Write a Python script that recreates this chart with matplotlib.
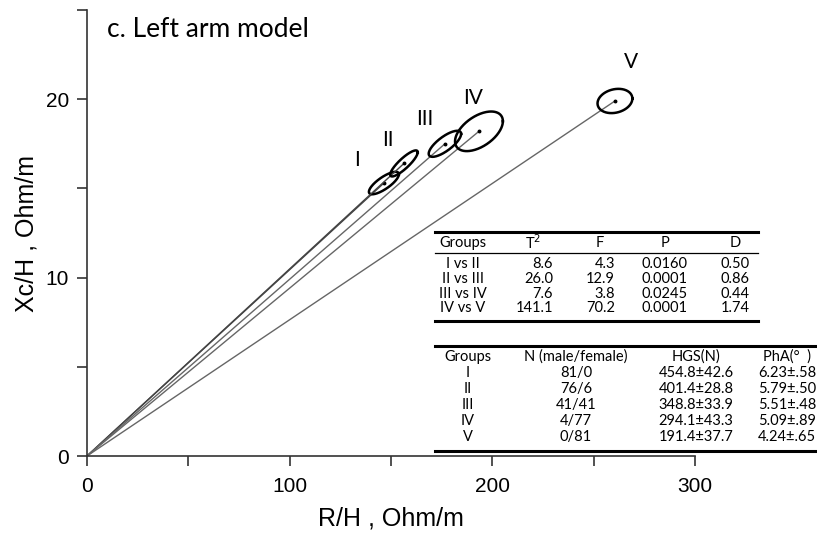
import numpy as np
import matplotlib.pyplot as plt
from matplotlib.lines import Line2D

# group centres (R/H, Xc/H) and ellipse spreads
groups = ['I', 'II', 'III', 'IV', 'V']
r_h = [146.5, 156.4, 176.6, 193.4, 260.5]
xc_h = [15.3, 16.4, 17.5, 18.2, 19.9]
sd_r = [7.4, 6.8, 8.0, 11.8, 8.6]
sd_xc = [0.63, 0.73, 0.73, 1.11, 0.68]
rho = [0.78, 0.86, 0.76, 0.51, 0.2]
label_x = [133, 148.5, 166.7, 190.4, 268.4]
label_y = [16.6, 17.7, 18.9, 20.05, 22.1]

t2_head = ['Groups', 'T$^2$', 'F', 'P', 'D']
t2_rows = [['I vs II', '8.6', '4.3', '0.0160', '0.50'],
           ['II vs III', '26.0', '12.9', '0.0001', '0.86'],
           ['III vs IV', '7.6', '3.8', '0.0245', '0.44'],
           ['IV vs V', '141.1', '70.2', '0.0001', '1.74']]

grp_head = ['Groups', 'N (male/female)', 'HGS(N)', 'PhA(°  )']
grp_rows = [['I', '81/0', '454.8±42.6', '6.23±.58'],
            ['II', '76/6', '401.4±28.8', '5.79±.50'],
            ['III', '41/41', '348.8±33.9', '5.51±.48'],
            ['IV', '4/77', '294.1±43.3', '5.09±.89'],
            ['V', '0/81', '191.4±37.7', '4.24±.65']]

W, H = 817, 533
fig = plt.figure(figsize=(W / 100, H / 100), dpi=100)
ax = fig.add_axes([87 / W, 1 - 456 / H, (695 - 87) / W, (456 - 10) / H])

num_font = 'Liberation Sans'
txt_font = 'Lato'

t = np.linspace(0, 2 * np.pi, 200)
for i in range(len(groups)):
    ax.plot([0, r_h[i]], [0, xc_h[i]], color='#444444' if i < 2 else '#666666', lw=1.0)
    ex = r_h[i] + sd_r[i] * np.cos(t)
    ey = xc_h[i] + sd_xc[i] * (rho[i] * np.cos(t) + np.sqrt(1 - rho[i] ** 2) * np.sin(t))
    ax.plot(ex, ey, color='black', lw=1.8)
    ax.plot(r_h[i], xc_h[i], 'o', color='black', ms=1.8)
    ax.text(label_x[i], label_y[i], groups[i], fontsize=15, family=txt_font,
            ha='center', va='center')

ax.text(10, 23.9, 'c. Left arm model', fontsize=19, family=txt_font, va='center')

ax.set_xlim(0, 300)
ax.set_ylim(0, 25)
ax.set_xticks([0, 100, 200, 300])
ax.set_xticks([50, 150, 250], minor=True)
ax.set_yticks([0, 10, 20])
ax.set_yticks([5, 15, 25], minor=True)
ax.tick_params(which='both', direction='out', length=7, width=1.2, color='#333333')
for lab in ax.get_xticklabels() + ax.get_yticklabels():
    lab.set_family(num_font)
    lab.set_fontsize(15)
ax.tick_params(axis='x', pad=8)
ax.tick_params(axis='y', pad=6)
ax.spines['top'].set_visible(False)
ax.spines['right'].set_visible(False)
for s in ['left', 'bottom']:
    ax.spines[s].set_linewidth(1.2)
    ax.spines[s].set_color('#333333')
ax.set_xlabel('R/H , Ohm/m', fontsize=18, family=num_font, labelpad=8)
ax.set_ylabel('Xc/H , Ohm/m', fontsize=18, family=num_font, labelpad=5)


def px(x, y):
    return x / W, 1 - y / H


def hline(x0, x1, y, lw):
    fig.add_artist(Line2D([x0 / W, x1 / W], [1 - y / H, 1 - y / H], color='black',
                          lw=lw, transform=fig.transFigure))


fs = 10.5

# test statistics table
hline(435, 758, 232, 2.2)
hline(435, 758, 253, 0.9)
hline(435, 758, 321, 2.2)
head_x = [463, 533, 600, 665, 735]
row_x = [463, 553, 615, 665, 735]
row_ha = ['center', 'right', 'right', 'center', 'center']
for j, h in enumerate(t2_head):
    fig.text(*px(head_x[j], 243), h, fontsize=fs, family=txt_font, ha='center', va='center')
row_y = [264, 279, 294, 308]
for i, row in enumerate(t2_rows):
    for j, v in enumerate(row):
        fig.text(*px(row_x[j], row_y[i]), v, fontsize=fs, family=txt_font,
                 ha=row_ha[j], va='center')

# group description table
hline(435, 815, 346, 2.2)
hline(435, 815, 451, 2.2)
g_x = [468, 576, 696, 787]
for j, h in enumerate(grp_head):
    fig.text(*px(g_x[j], 357), h, fontsize=fs, family=txt_font, ha='center', va='center')
g_y = [373, 389, 405, 421, 437]
for i, row in enumerate(grp_rows):
    for j, v in enumerate(row):
        fig.text(*px(g_x[j], g_y[i]), v, fontsize=fs, family=txt_font,
                 ha='center', va='center')

fig.savefig('out.png', dpi=100)
